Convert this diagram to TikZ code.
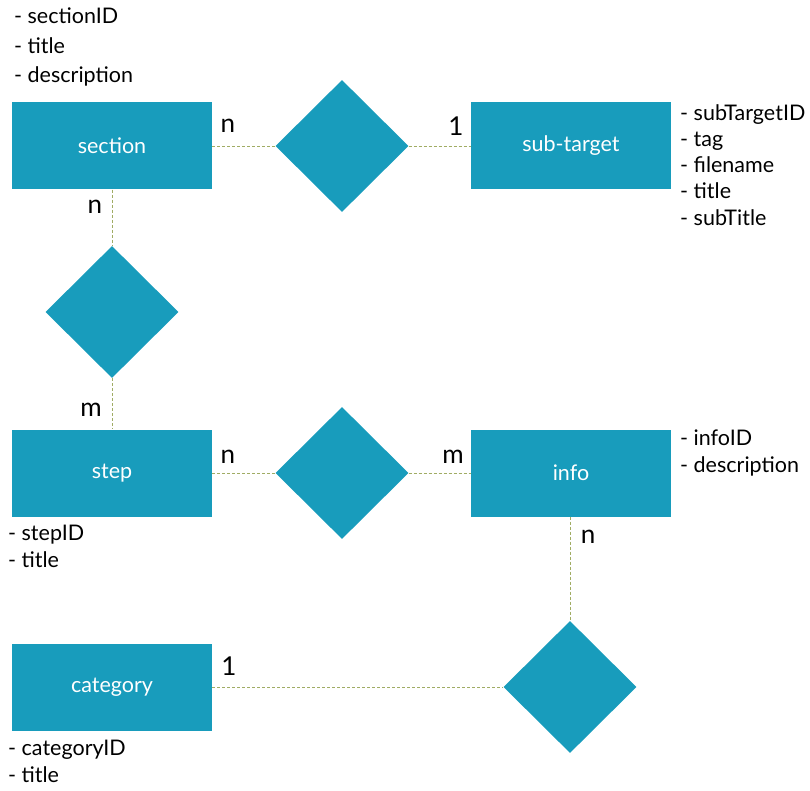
\documentclass[tikz,border=0pt]{standalone}
\usepackage{fontspec}
\setmainfont{Lato}
\usetikzlibrary{shapes.geometric}
\definecolor{teal}{RGB}{24,156,188}
\definecolor{olive}{RGB}{160,172,100}

\tikzset{
  entity/.style={fill=teal, minimum width=200, minimum height=87, inner sep=0,
    text=white, font=\fontsize{21.5}{25}\selectfont},
  relation/.style={diamond, fill=teal, minimum width=133, minimum height=132,
    inner sep=0},
  attrs/.style={anchor=north west, inner sep=0, align=left,
    font=\fontsize{21.5}{27}\selectfont},
  link/.style={olive, densely dashed, line width=0.7pt},
  card/.style={font=\fontsize{26}{29}\selectfont, inner sep=0}
}

\begin{document}
\begin{tikzpicture}[x=1pt,y=-1pt]
                \useasboundingbox (0,0) rectangle (810,791);

                % Entities
                \node[entity] (section) at (112,146) {section};
                \node[entity] (subtarget) at (571,146) {sub-target};
                \node[entity] (step) at (112,473) {step};
                \node[entity] (info) at (571,473) {info};
                \node[entity] (category) at (112,687) {category};

                % Relations
                \node[relation] (r1) at (342,146) {};
                \node[relation] (r2) at (112,312) {};
                \node[relation] (r3) at (342,473) {};
                \node[relation] (r4) at (570,687) {};

                % Links
                \draw[link] (section) -- (r1) -- (subtarget);
                \draw[link] (section) -- (r2) -- (step);
                \draw[link] (step) -- (r3) -- (info);
                \draw[link] (info.south -| r4) -- (r4);
                \draw[link] (category) -- (r4);

                % Cardinalities
                \node[card] (c1) at (228,126) {n};
                \node[card] (c2) at (456,126) {1};
                \node[card] (c3) at (95,207) {n};
                \node[card] (c4) at (91,410) {m};
                \node[card] (c5) at (228,457) {n};
                \node[card] (c6) at (453,457) {m};
                \node[card] (c7) at (588,537) {n};
                \node[card] (c8) at (229,666) {1};

                % Attributes
                \node[attrs, font=\fontsize{21.5}{29.5}\selectfont] (a1) at (14,8)
                  {- sectionID\\- title\\- description};
                \node[attrs, font=\fontsize{21.5}{26.3}\selectfont] (a2) at (680,104)
                  {- subTargetID\\- tag\\- filename\\- title\\- subTitle};
                \node[attrs] (a3) at (680,430) {- infoID\\- description};
                \node[attrs] (a4) at (8,525) {- stepID\\- title};
                \node[attrs] (a5) at (8,740) {- categoryID\\- title};
            \end{tikzpicture}
\end{document}
